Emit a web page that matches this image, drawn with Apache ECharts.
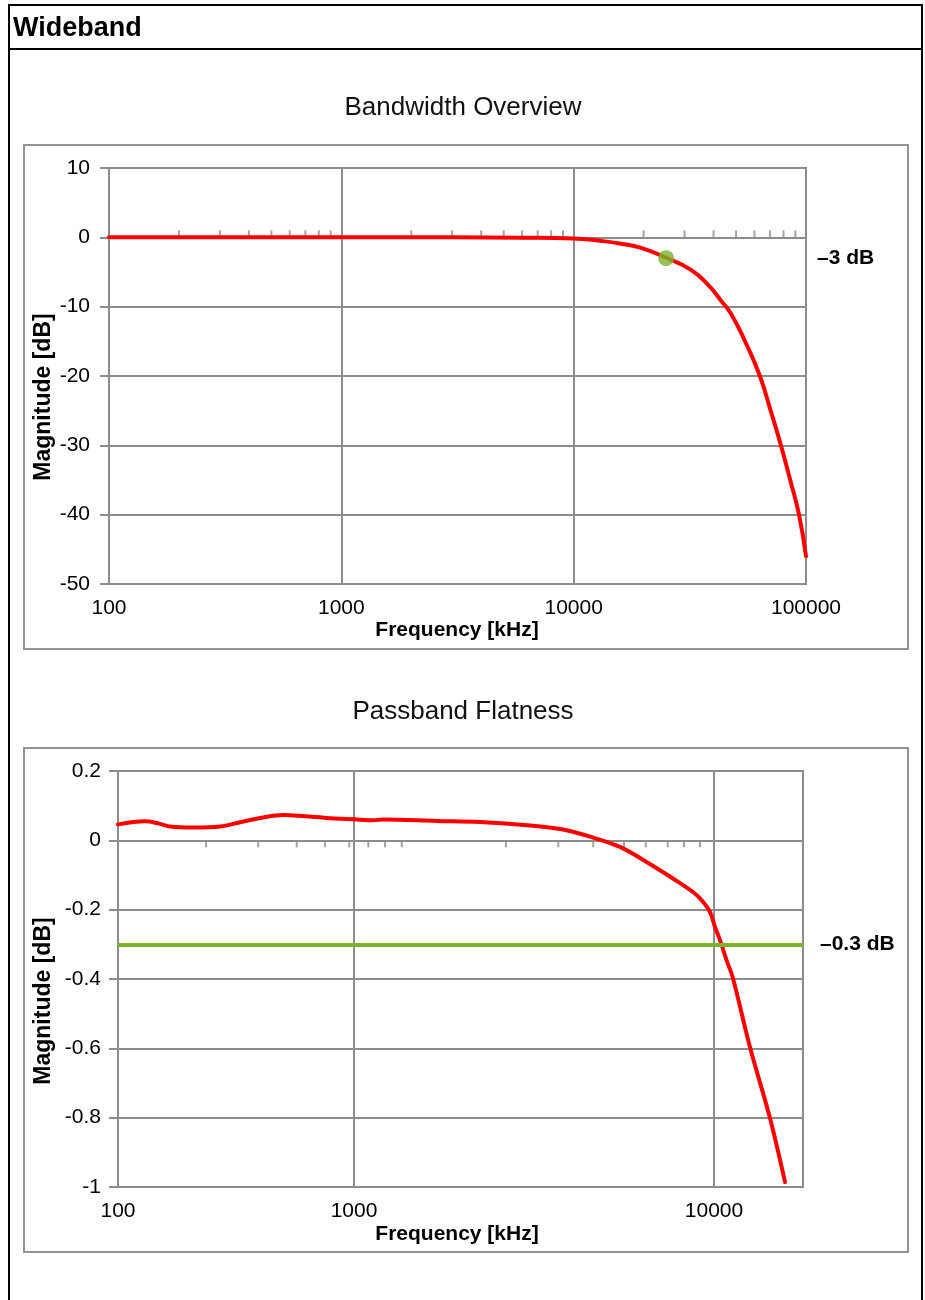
<!DOCTYPE html>
<html>
<head>
<meta charset="utf-8">
<script src="https://cdn.jsdelivr.net/npm/echarts@6/dist/echarts.min.js"></script>
<style>
html,body{margin:0;padding:0;background:#fff;}
#c{width:925px;height:1300px;}
</style>
</head>
<body>
<div id="c"></div>
<script>
// ---------- Data ----------
// Bandwidth Overview (frequency in kHz, magnitude in dB)
const bwFreq = [100, 300, 1000, 3000, 6000, 10000, 13000, 16000, 19500, 25000, 32000, 38000, 43000, 47500, 55000, 63300, 70600, 78000, 85500, 93300, 100000];
const bwMag  = [0, 0, 0, 0, -0.05, -0.16, -0.5, -0.92, -1.53, -2.95, -4.7, -6.9, -9.1, -11.0, -15.2, -20, -25.1, -30, -35, -40, -46];
const bwMarkerFreq = [25000];
const bwMarkerMag  = [-3];
const bwThreshold = -3;
const bwThresholdLabel = '\u20133 dB';
const bwMinorTicks = [200, 300, 400, 500, 600, 700, 800, 900,
                      2000, 3000, 4000, 5000, 6000, 7000, 8000, 9000,
                      20000, 30000, 40000, 50000, 60000, 70000, 80000, 90000];

// Passband Flatness (frequency in kHz, magnitude in dB)
const pfFreq = [100, 130, 146, 166, 208, 271, 329, 412, 500, 608, 791, 1000, 1129, 1204, 1700, 2239, 3084, 3807, 4613, 5480, 6513, 7691, 8741, 9244, 9748, 10064, 10390, 10840, 11290, 12590, 14310, 15750];
const pfMag  = [0.046, 0.055, 0.050, 0.040, 0.037, 0.040, 0.052, 0.066, 0.073, 0.070, 0.064, 0.061, 0.058, 0.060, 0.056, 0.053, 0.043, 0.031, 0.008, -0.019, -0.063, -0.110, -0.149, -0.173, -0.207, -0.250, -0.288, -0.346, -0.398, -0.597, -0.802, -0.986];
const pfThreshold = -0.3;
const pfThresholdLabel = '\u20130.3 dB';
const pfMinorTicks = [236, 393, 572, 754, 955, 1096, 1219, 1357, 2644, 3694, 4620, 5623, 6461, 7437, 8254, 9145];
const pfSplitFreq = 1000;   // boundary between the two panels of the frequency axis
const pfMaxFreq = 17670;

// ---------- Styles ----------
const GRAY = '#8c8c8c';
const RED = '#ff0000';
const GREEN = '#79b52c';
const FONT = '"Liberation Sans", Arial, Helvetica, sans-serif';

const gridLine = {show: true, lineStyle: {color: GRAY, width: 2}};
const axisLineStyle = {color: GRAY, width: 2};
const tickLabel = (margin) => ({fontSize: 21, color: '#000', fontFamily: FONT, margin: margin});

const chart = echarts.init(document.getElementById('c'), null, {renderer: 'canvas'});

const bwData = bwFreq.map((f, i) => [f, bwMag[i]]);
const pfData = pfFreq.map((f, i) => [f, pfMag[i]]);
const pfDataA = pfData.filter(d => d[0] <= pfSplitFreq);
const pfDataB = pfData.filter(d => d[0] >= pfSplitFreq);

const option = {
  backgroundColor: '#ffffff',
  animation: false,
  grid: [
    {left: 109, top: 168, width: 697, height: 416, show: true, borderColor: GRAY, borderWidth: 2, backgroundColor: 'transparent'},
    {left: 118, top: 771, width: 236, height: 416, show: true, borderColor: GRAY, borderWidth: 2, backgroundColor: 'transparent'},
    {left: 354, top: 771, width: 449, height: 416, show: true, borderColor: GRAY, borderWidth: 2, backgroundColor: 'transparent'}
  ],
  xAxis: [
    {type: 'log', logBase: 10, gridIndex: 0, min: 100, max: 100000,
     axisLine: {show: true, onZero: false, lineStyle: axisLineStyle},
     axisTick: {show: false}, splitLine: gridLine,
     axisLabel: Object.assign(tickLabel(14), {formatter: v => String(Math.round(v)), showMinLabel: true, showMaxLabel: true})},
    {type: 'log', logBase: 10, gridIndex: 1, min: 100, max: pfSplitFreq,
     axisLine: {show: true, onZero: false, lineStyle: axisLineStyle},
     axisTick: {show: false}, splitLine: gridLine,
     axisLabel: Object.assign(tickLabel(14), {formatter: v => String(Math.round(v)), showMinLabel: true, showMaxLabel: true})},
    {type: 'log', logBase: 10, gridIndex: 2, min: pfSplitFreq, max: pfMaxFreq,
     axisLine: {show: true, onZero: false, lineStyle: axisLineStyle},
     axisTick: {show: false}, splitLine: gridLine,
     axisLabel: Object.assign(tickLabel(14), {formatter: v => (Math.round(v) === 10000 ? '10000' : '')})}
  ],
  yAxis: [
    {type: 'value', gridIndex: 0, min: -50, max: 10, interval: 10,
     axisLine: {show: true, lineStyle: axisLineStyle},
     axisTick: {show: true, length: 9, lineStyle: axisLineStyle},
     splitLine: gridLine, axisLabel: tickLabel(19)},
    {type: 'value', gridIndex: 1, min: -1, max: 0.2, interval: 0.2,
     axisLine: {show: true, lineStyle: axisLineStyle},
     axisTick: {show: true, length: 9, lineStyle: axisLineStyle},
     splitLine: gridLine, axisLabel: tickLabel(17)},
    {type: 'value', gridIndex: 2, min: -1, max: 0.2, interval: 0.2,
     axisLine: {show: false}, axisTick: {show: false},
     splitLine: gridLine, axisLabel: {show: false}}
  ],
  series: [
    // --- Chart 1 ---
    {type: 'scatter', xAxisIndex: 0, yAxisIndex: 0, silent: true, z: 1,
     symbol: 'rect', symbolSize: [2, 7], symbolOffset: [0, -3.5],
     itemStyle: {color: GRAY}, data: bwMinorTicks.map(f => [f, 0])},
    {type: 'line', xAxisIndex: 0, yAxisIndex: 0, z: 2, data: [], silent: true,
     markLine: {silent: true, symbol: 'none', animation: false,
       lineStyle: {color: 'rgba(255,255,255,0)', width: 1, type: 'solid'},
       label: {show: true, position: 'end', distance: 11, formatter: bwThresholdLabel,
               fontSize: 21, fontWeight: 'bold', color: '#000', fontFamily: FONT},
       data: [{yAxis: bwThreshold}]}},
    {type: 'line', xAxisIndex: 0, yAxisIndex: 0, z: 3, smooth: 0.5,
     showSymbol: false, silent: true,
     lineStyle: {color: RED, width: 4, cap: 'round'}, data: bwData},
    {type: 'scatter', xAxisIndex: 0, yAxisIndex: 0, z: 4, silent: true,
     symbol: 'circle', symbolSize: 16, itemStyle: {color: GREEN},
     data: bwMarkerFreq.map((f, i) => [f, bwMarkerMag[i]])},

    // --- Chart 2 ---
    {type: 'scatter', xAxisIndex: 1, yAxisIndex: 1, silent: true, z: 1,
     symbol: 'rect', symbolSize: [2, 7], symbolOffset: [0, 3.5],
     itemStyle: {color: GRAY}, data: pfMinorTicks.filter(f => f < pfSplitFreq).map(f => [f, 0])},
    {type: 'scatter', xAxisIndex: 2, yAxisIndex: 2, silent: true, z: 1,
     symbol: 'rect', symbolSize: [2, 7], symbolOffset: [0, 3.5],
     itemStyle: {color: GRAY}, data: pfMinorTicks.filter(f => f > pfSplitFreq).map(f => [f, 0])},
    {type: 'line', xAxisIndex: 1, yAxisIndex: 1, z: 2, data: [], silent: true,
     markLine: {silent: true, symbol: 'none', animation: false,
       lineStyle: {color: GREEN, width: 4, type: 'solid'},
       label: {show: false}, data: [{yAxis: pfThreshold}]}},
    {type: 'line', xAxisIndex: 2, yAxisIndex: 2, z: 2, data: [], silent: true,
     markLine: {silent: true, symbol: 'none', animation: false,
       lineStyle: {color: GREEN, width: 4, type: 'solid'},
       label: {show: true, position: 'end', distance: 17, formatter: pfThresholdLabel,
               fontSize: 21, fontWeight: 'bold', color: '#000', fontFamily: FONT},
       data: [{yAxis: pfThreshold}]}},
    {type: 'line', xAxisIndex: 1, yAxisIndex: 1, z: 3, smooth: 0.35,
     showSymbol: false, silent: true,
     lineStyle: {color: RED, width: 4, cap: 'round'}, data: pfDataA},
    {type: 'line', xAxisIndex: 2, yAxisIndex: 2, z: 3, smooth: 0.35,
     showSymbol: false, silent: true,
     lineStyle: {color: RED, width: 4, cap: 'round'}, data: pfDataB}
  ],
  graphic: [
    {type: 'rect', z: -10, silent: true, shape: {x: 9, y: 5, width: 913, height: 1320},
     style: {fill: 'none', stroke: '#000', lineWidth: 2}},
    {type: 'line', z: -10, silent: true, shape: {x1: 9, y1: 49, x2: 922, y2: 49},
     style: {stroke: '#000', lineWidth: 2}},
    {type: 'text', silent: true, x: 13, y: 29,
     style: {text: 'Wideband', fill: '#000', font: 'bold 27px ' + FONT, align: 'left', verticalAlign: 'middle'}},

    {type: 'rect', z: -10, silent: true, shape: {x: 24, y: 145, width: 884, height: 504},
     style: {fill: 'none', stroke: '#939393', lineWidth: 2}},
    {type: 'rect', z: -10, silent: true, shape: {x: 24, y: 748, width: 884, height: 504},
     style: {fill: 'none', stroke: '#939393', lineWidth: 2}},

    {type: 'text', silent: true, x: 463, y: 108,
     style: {text: 'Bandwidth Overview', fill: '#111', font: '26px ' + FONT, align: 'center', verticalAlign: 'middle'}},
    {type: 'text', silent: true, x: 463, y: 712,
     style: {text: 'Passband Flatness', fill: '#111', font: '26px ' + FONT, align: 'center', verticalAlign: 'middle'}},

    {type: 'text', silent: true, x: 44, y: 397, rotation: Math.PI / 2,
     style: {text: 'Magnitude [dB]', fill: '#000', font: 'bold 23px ' + FONT, align: 'center', verticalAlign: 'middle'}},
    {type: 'text', silent: true, x: 44, y: 1001, rotation: Math.PI / 2,
     style: {text: 'Magnitude [dB]', fill: '#000', font: 'bold 23px ' + FONT, align: 'center', verticalAlign: 'middle'}},
    {type: 'text', silent: true, x: 457, y: 630,
     style: {text: 'Frequency [kHz]', fill: '#000', font: 'bold 21px ' + FONT, align: 'center', verticalAlign: 'middle'}},
    {type: 'text', silent: true, x: 457, y: 1234,
     style: {text: 'Frequency [kHz]', fill: '#000', font: 'bold 21px ' + FONT, align: 'center', verticalAlign: 'middle'}}
  ]
};

chart.setOption(option);
</script>
</body>
</html>
